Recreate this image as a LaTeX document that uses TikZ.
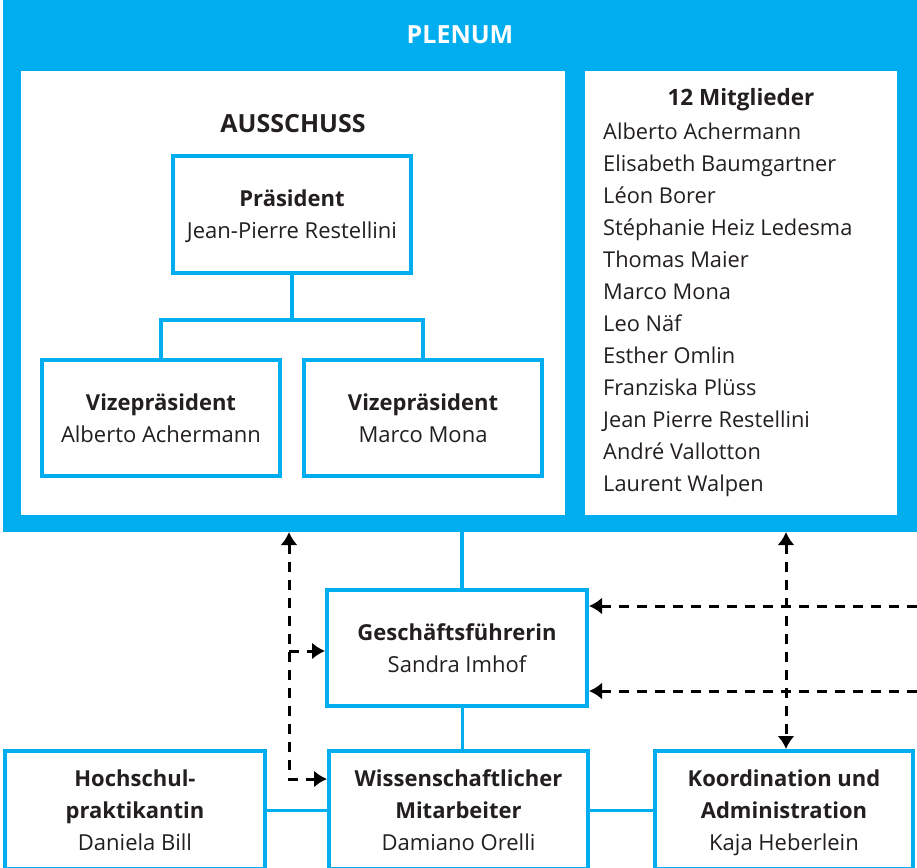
\documentclass[tikz,border=0pt]{standalone}
\usepackage{fontspec}
\setmainfont{Open Sans}
\usetikzlibrary{arrows.meta,positioning}
\definecolor{plenumblue}{HTML}{00AEEF}
\definecolor{ink}{HTML}{231F20}
\tikzset{panel/.style = {fill=white, anchor=north west, inner sep=0pt}}
\tikzset{post/.style = {draw=plenumblue, line width=4pt, fill=white, align=center, text=ink, font=\fontsize{22}{32}\selectfont, text depth=-1pt}}
\tikzset{tie/.style = {draw=plenumblue, line width=4pt}}
\tikzset{link/.style = {draw=black, line width=3pt, dash pattern=on 10pt off 8pt, >={Latex[length=13pt,width=17pt]}}}

\begin{document}
\begin{tikzpicture}[x=1pt,y=-1pt]
                    \clip (0,0) rectangle (917,867);
                    % plenum frame
                    \node[fill=plenumblue, anchor=north west, minimum width=914, minimum height=532, inner sep=0pt] (plenum) at (3,0) {};
                    \node[text=white, font=\fontsize{25}{30}\selectfont\bfseries] (plenumtitle) at (460,35) {PLENUM};
                    \node[panel, minimum width=544, minimum height=444] (ausschuss) at (21,71) {};
                    \node[panel, minimum width=312, minimum height=444] (mitglieder) at (585,71) {};

                    % ausschuss
                    \node[text=ink, font=\fontsize{25}{30}\selectfont\bfseries] (ausschusstitle) at (293,124) {AUSSCHUSS};
                    \node[post, minimum width=238, minimum height=117] (praes) at (292,214) {\textbf{Präsident}\\Jean-Pierre Restellini};
                    \node[post, minimum width=238, minimum height=116] (vize1) at (161,418) {\textbf{Vizepräsident}\\Alberto Achermann};
                    \node[post, minimum width=238, minimum height=116] (vize2) at (423,418) {\textbf{Vizepräsident}\\Marco Mona};

                    % members
                    \node[text=ink, font=\fontsize{22.5}{32}\selectfont\bfseries] (mtitle) at (741,100) {12 Mitglieder};
                    \node[text=ink, align=left, anchor=west, inner sep=0pt, font=\fontsize{21.8}{32}\selectfont] (names) at (603,310) {Alberto Achermann\\Elisabeth Baumgartner\\Léon Borer\\Stéphanie Heiz Ledesma\\Thomas Maier\\Marco Mona\\Leo Näf\\Esther Omlin\\Franziska Plüss\\Jean Pierre Restellini\\André Vallotton\\Laurent Walpen};

                    % office
                    \node[post, minimum width=260, minimum height=116] (gf) at (457,648) {\textbf{Geschäftsführerin}\\Sandra Imhof};
                    \node[post, minimum width=260, minimum height=118] (hs) at (135,810) {\textbf{Hochschul-}\\\textbf{praktikantin}\\Daniela Bill};
                    \node[post, minimum width=259, minimum height=118] (wm) at (458.5,810) {\textbf{Wissenschaftlicher}\\\textbf{Mitarbeiter}\\Damiano Orelli};
                    \node[post, minimum width=258, minimum height=118] (ka) at (784,810) {\textbf{Koordination und}\\\textbf{Administration}\\Kaja Heberlein};

                    \draw[tie] (praes.south) -- ++(0,45) coordinate (fork) -| (vize1.north);
                    \draw[tie] (fork) -| (vize2.north);
                    \coordinate (pb) at (462,532);
                    \draw[tie] (pb) -- (pb |- gf.north);
                    \draw[tie, line width=3pt] (pb |- gf.south) -- (pb |- wm.north);
                    \draw[tie, line width=3pt] (hs.east) -- (wm.west);
                    \draw[tie, line width=3pt] (wm.east) -- (ka.west);

                    % dashed links
                    \coordinate (lt) at (289,532);
                    \coordinate (lm) at (289,651);
                    \coordinate (lb) at (289,779);
                    \coordinate (rt) at (786,532);
                    \coordinate (ra) at (917,606);
                    \coordinate (rb) at (917,691);
                    \draw[link, <->] (lt) -- (lb) -- (lb -| wm.west);
                    \draw[link, ->] (lm) -- (lm -| gf.west);
                    \draw[link, <->] (rt) -- (rt |- ka.north);
                    \draw[link, ->] (ra) -- (ra -| gf.east);
                    \draw[link, ->] (rb) -- (rb -| gf.east);
                \end{tikzpicture}
\end{document}
